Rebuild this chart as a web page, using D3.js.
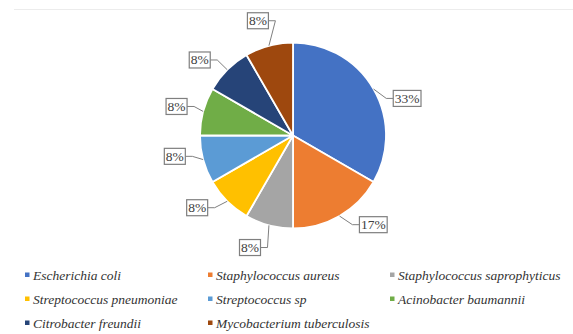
<!DOCTYPE html>
<html>
<head>
<meta charset="utf-8">
<script src="https://cdn.jsdelivr.net/npm/d3@7"></script>
<style>
  body { margin: 0; background: #fff; }
  svg { display: block; }
</style>
</head>
<body>
<div id="chart"></div>
<script>
// data (isolate counts -> percentages)
const species = ["Escherichia coli", "Staphylococcus aureus", "Staphylococcus saprophyticus",
  "Streptococcus pneumoniae", "Streptococcus sp", "Acinobacter baumannii",
  "Citrobacter freundii", "Mycobacterium tuberculosis"];
const counts = [4, 2, 1, 1, 1, 1, 1, 1];
const colors = ["#4472C4", "#ED7D31", "#A5A5A5", "#FFC000", "#5B9BD5", "#70AD47", "#264478", "#9E480E"];

const W = 573, H = 334;
const cx = 293, cy = 135.5, r = 93;
const serifFont = '"Liberation Serif", "Times New Roman", serif';

const svg = d3.select("#chart").append("svg")
  .attr("width", W).attr("height", H);

// faint frame line at the top
svg.append("line")
  .attr("x1", 14).attr("x2", W).attr("y1", 9.5).attr("y2", 9.5)
  .attr("stroke", "#ececec").attr("stroke-width", 1);

const total = d3.sum(counts);
const rows = species.map((s, i) => ({name: s, value: counts[i], color: colors[i]}));

const pie = d3.pie().sort(null).value(d => d.value);
const arc = d3.arc().innerRadius(0).outerRadius(r);
const arcs = pie(rows);

const g = svg.append("g").attr("transform", `translate(${cx},${cy})`);

g.selectAll("path.slice")
  .data(arcs)
  .join("path")
    .attr("class", "slice")
    .attr("d", arc)
    .attr("fill", d => d.data.color)
    .attr("stroke", "#fff")
    .attr("stroke-width", 1.8)
    .attr("stroke-linejoin", "round");

// labels: placed outside the pie, with small angle tweaks like Excel's layout
const labelR = 120;
const labelNudge = [12, -12, 6, 8, 5, -1, -6, -2]; // degrees
const boxH = 16;

const labels = g.append("g");
arcs.forEach((d, i) => {
  const mid = (d.startAngle + d.endAngle) / 2;
  const la = mid + labelNudge[i] * Math.PI / 180;
  const lx = labelR * Math.sin(la), ly = -labelR * Math.cos(la);
  const ex = r * Math.sin(mid), ey = -r * Math.cos(mid);

  const txt = Math.round(d.data.value / total * 100) + "%";
  const t = labels.append("text")
    .attr("x", lx).attr("y", ly + 4.5)
    .attr("text-anchor", "middle")
    .attr("font-family", serifFont)
    .attr("font-size", 13.5)
    .attr("fill", "#404040")
    .text(txt);
  const tw = t.node().getComputedTextLength();
  const bw = tw + 3;
  const x0 = lx - bw / 2, x1 = lx + bw / 2, y0 = ly - boxH / 2, y1 = ly + boxH / 2;

  // leader to the nearest point on the box
  const px = Math.max(x0, Math.min(x1, ex)), py = Math.max(y0, Math.min(y1, ey));
  let pts;
  if (px === x0 || px === x1) {
    const sx = px === x0 ? -7 : 7;
    pts = [[ex, ey], [px + sx, ly], [px, ly]];
  } else {
    pts = [[ex, ey], [px, py]];
  }
  labels.insert("path", "text")
    .attr("d", d3.line()(pts))
    .attr("fill", "none")
    .attr("stroke", "#7f7f7f")
    .attr("stroke-width", 1);

  labels.insert("rect", "text")
    .attr("x", x0).attr("y", y0)
    .attr("width", bw).attr("height", boxH)
    .attr("fill", "#fff")
    .attr("stroke", "#7f7f7f")
    .attr("stroke-width", 1.2);
});

// legend, three columns
const colX = [25, 208, 390];
const rowY = [275, 299, 323];
const legend = svg.append("g");
rows.forEach((d, i) => {
  const cxi = colX[i % 3], cyi = rowY[Math.floor(i / 3)];
  legend.append("rect")
    .attr("x", cxi).attr("y", cyi - 2.5)
    .attr("width", 4.5).attr("height", 4.5)
    .attr("fill", d.color);
  legend.append("text")
    .attr("x", cxi + 8).attr("y", cyi + 4.5)
    .attr("font-family", serifFont)
    .attr("font-size", 13.5)
    .attr("font-style", "italic")
    .attr("fill", "#333")
    .text(d.name);
});
</script>
</body>
</html>
